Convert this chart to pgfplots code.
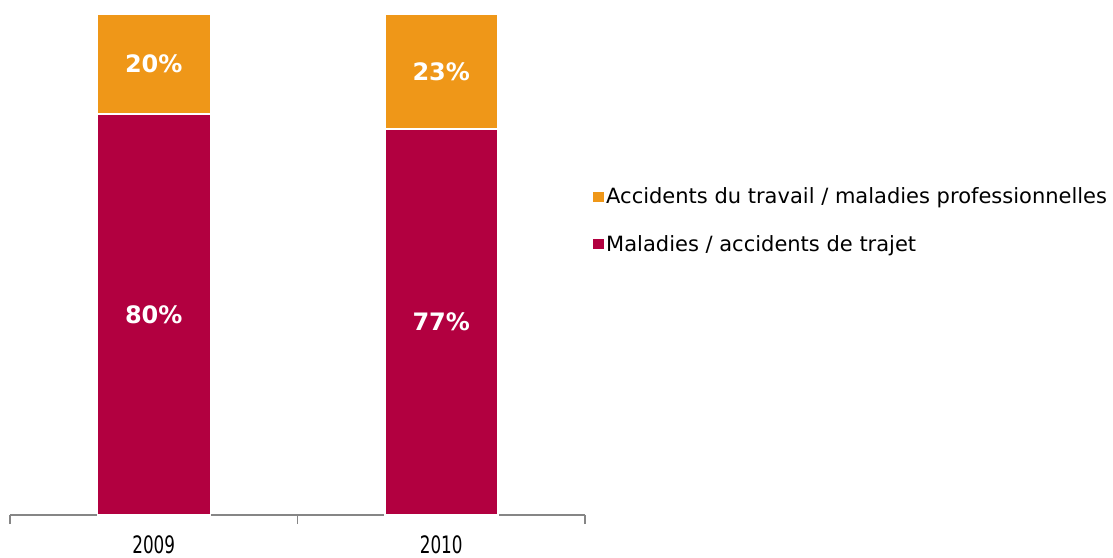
\documentclass[border=0pt]{standalone}
\usepackage{pgfplots}
\pgfplotsset{compat=1.18}
\usepackage{fontspec}
\setmainfont{DejaVu Sans}
\newfontfamily\yearfont{DejaVu Sans}[FakeStretch=0.7]
\definecolor{cOrange}{HTML}{EF9718}
\definecolor{cRed}{HTML}{B20040}
\definecolor{cAxis}{HTML}{868686}
\begin{document}
\begin{tikzpicture}
\useasboundingbox (0pt,0pt) rectangle (1113pt,557pt);
\begin{axis}[
  at={(10pt,42pt)}, anchor=south west,
  scale only axis, width=575pt, height=501pt,
  ybar stacked, bar width=113pt,
  xmin=-0.5, xmax=1.5, ymin=0, ymax=100,
  clip=false,
  axis x line*=bottom, axis y line=none,
  x axis line style={cAxis, line width=1.2pt, -},
  xtick={0,1}, xticklabels={2009,2010}, major tick length=0pt,
  minor xtick={-0.5,0.5,1.5}, minor tick length=9pt, tick align=outside,
  every tick/.style={cAxis, line width=1.2pt},
  xticklabel style={font=\yearfont\fontsize{24}{24}\selectfont, text=black, yshift=-17pt},
  ytick=\empty,
  point meta=explicit,
  nodes near coords={\pgfmathprintnumber[assume math mode=true]{\pgfplotspointmeta}\%},
  every node near coord/.style={anchor=center, font=\bfseries\fontsize{24}{24}\selectfont, text=white},
  reverse legend,
  legend style={at={(rel axis cs:1.0,0.588)}, anchor=west, xshift=1pt, draw=none, fill=none,
     font=\fontsize{21}{21}\selectfont, row sep=26pt, inner xsep=7pt},
  legend cell align=left,
  legend image code/.code={\path[#1, draw=none] (2pt,-5pt) rectangle (13pt,5pt);},
]
\addplot[fill=cRed, draw=white, line width=1.5pt] table[x=x, y=y, meta=y] {
x y
0 80
1 77
};
\addlegendentry{Maladies / accidents de trajet}
\addplot[fill=cOrange, draw=white, line width=1.5pt] table[x=x, y=y, meta=y] {
x y
0 20
1 23
};
\addlegendentry{Accidents du travail / maladies professionnelles}
\end{axis}
\end{tikzpicture}
\end{document}
